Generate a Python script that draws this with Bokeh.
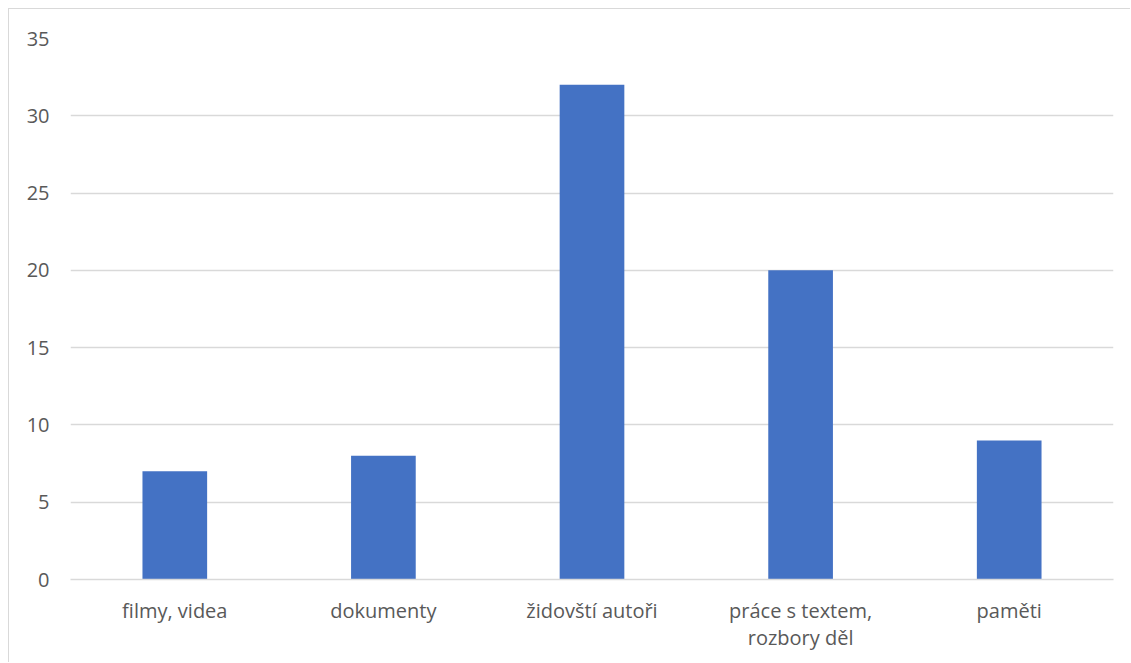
from bokeh.plotting import figure
from bokeh.models import ColumnDataSource, Range1d, SingleIntervalTicker
from bokeh.embed import file_html
from bokeh.resources import INLINE

categories = ["filmy, videa", "dokumenty", "židovští autoři", "práce s textem,\nrozbory děl", "paměti"]
values = [7, 8, 32, 20, 9]

src = ColumnDataSource(dict(cat=categories, val=values))

p = figure(x_range=categories, width=1122, height=654, output_backend="svg",
           toolbar_location=None, min_border_left=61, min_border_right=18,
           min_border_top=29, min_border_bottom=84)
p.styles = {"border-top": "1px solid #d9d9d9", "border-left": "1px solid #d9d9d9",
            "margin-left": "8px", "margin-top": "8px"}
p.y_range = Range1d(0, 35)
p.vbar(x="cat", top="val", width=0.31, source=src, color="#4472C4", line_color=None)

p.outline_line_color = None
p.xgrid.grid_line_color = None
p.ygrid.grid_line_color = "#d9d9d9"
p.ygrid.grid_line_width = 1.5
p.yaxis.ticker = SingleIntervalTicker(interval=5)
for ax in (p.xaxis, p.yaxis):
    ax.axis_line_color = None
    ax.major_tick_line_color = None
    ax.minor_tick_line_color = None
    ax.major_label_text_font = "Open Sans"
    ax.major_label_text_color = "#595959"
p.yaxis.major_label_text_font_size = "20px"
p.xaxis.major_label_text_font_size = "20px"
p.xaxis.major_label_text_line_height = 1.0
p.xaxis.axis_line_color = "#d9d9d9"
p.xaxis.axis_line_width = 1.5
p.yaxis.major_label_standoff = 15
p.xaxis.major_label_standoff = 11

open("out.html", "w").write(file_html(p, INLINE))
